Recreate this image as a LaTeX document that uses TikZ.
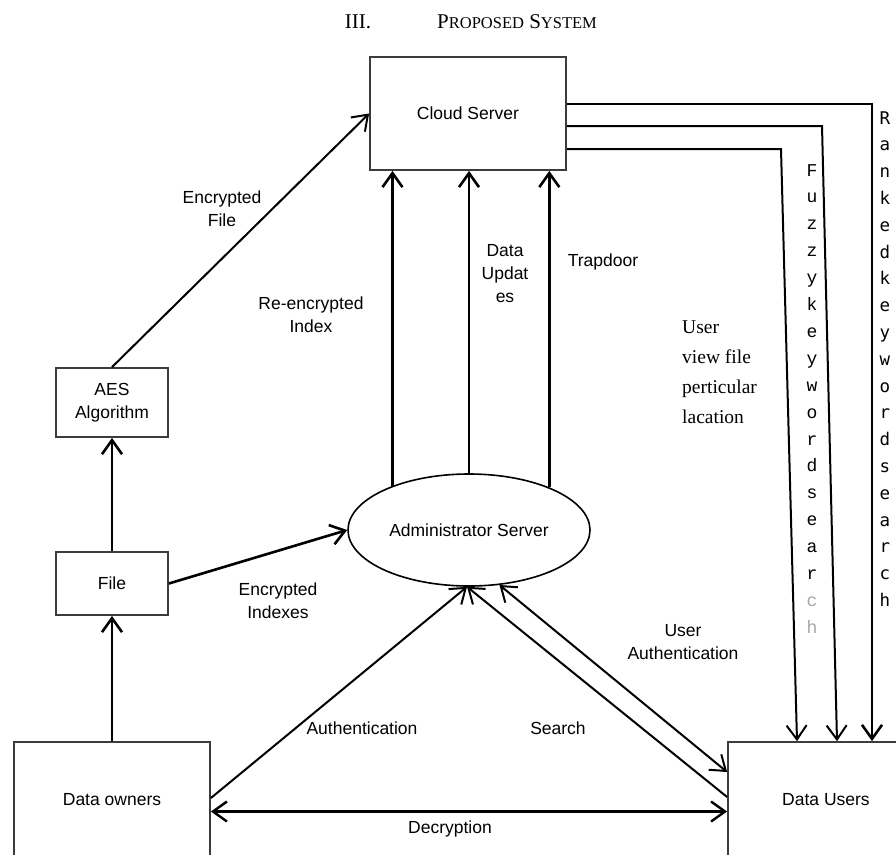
\documentclass[tikz,border=0pt]{standalone}
\usepackage{fontspec}
\setmainfont{Liberation Sans}
\newfontfamily\serifT{Liberation Serif}
\newfontfamily\monoF{Liberation Mono}
\newfontfamily\monoR{DejaVu Sans Mono}
\usetikzlibrary{arrows.meta,shapes.geometric,calc}
\definecolor{boxgray}{HTML}{3C3C3C}
\begin{document}
\begin{tikzpicture}[x=1pt,y=-1pt,
  font=\fontsize{17.5}{23}\selectfont,
  box/.style={draw=boxgray,line width=1.8pt,inner sep=0pt,align=center},
  arr/.style={line width=2.6pt,-{Straight Barb[length=14pt,width=20pt]}},
  arrthin/.style={line width=2pt,-{Straight Barb[length=14pt,width=20pt]}},
  arrboth/.style={line width=2.4pt,{Straight Barb[length=14pt,width=20pt]}-{Straight Barb[length=14pt,width=20pt]}},
  lbl/.style={align=center,inner sep=0pt},
  vletR/.style={anchor=base,inner sep=0pt,font=\monoR\fontsize{17.5}{17.5}\selectfont},
  vletF/.style={anchor=base,inner sep=0pt,font=\monoF\fontsize{18}{18}\selectfont}]
\useasboundingbox (0,0) rectangle (896,854);
\clip (0,0) rectangle (896,854);

% title
\node[anchor=base,inner sep=0pt,font=\serifT\fontsize{21}{21}\selectfont] (num) at (358,28) {III.};
\node[anchor=base west,inner sep=0pt,font=\serifT\fontsize{21}{21}\selectfont] (ttl) at (437,28)
  {P{\fontsize{16.5}{16}\selectfont ROPOSED} S{\fontsize{16.5}{16}\selectfont YSTEM}};

% nodes
\node[box,minimum width=196pt,minimum height=113pt] (cloud) at (468,113.5) {Cloud Server};
\node[box,minimum width=112pt,minimum height=69pt] (aes) at (112,402.5) {AES\\Algorithm};
\node[box,minimum width=112pt,minimum height=63pt] (file) at (112,583.5) {File};
\node[draw,ellipse,line width=1.6pt,inner sep=0pt,minimum width=242pt,minimum height=112pt] (admin) at (469,530) {Administrator Server};
\node[box,minimum width=196pt,minimum height=116pt] (owners) at (112,800) {Data owners};
\node[box,minimum width=196pt,minimum height=116pt] (users) at (826,800) {Data Users};

% arrows on the left
\draw[arr] (owners.north) -- (file.south);
\draw[arr] (file.north) -- (aes.south);
\draw[arrthin] (aes.north) -- (cloud.west);
\draw[arr] (file.east) -- (admin.west);

% admin to cloud
\draw[arr] (admin.150) -- (admin.150 |- cloud.south);
\draw[arr] (admin.north) -- (admin.north |- cloud.south);
\draw[arr] (admin.28) -- (admin.28 |- cloud.south);

% cloud to users
\coordinate (k2) at (822,126);
\coordinate (k3) at (781,149);
\draw[arr] ([yshift=9.5pt]cloud.east) -| ([xshift=46pt]users.north);
\draw[arrthin] ([yshift=-12.5pt]cloud.east) -- (k2) -- ([xshift=11pt]users.north);
\draw[arrthin] ([yshift=-35.5pt]cloud.east) -- (k3) -- ([xshift=-29pt]users.north);

% bottom
\draw[arrthin] ([yshift=2pt]owners.east) -- (admin.268);
\draw[arrthin] ([yshift=3pt]users.west) -- (admin.268);
\draw[line width=2pt,{Straight Barb[length=14pt,width=20pt]}-{Straight Barb[length=14pt,width=20pt]}] (admin.299) -- ([yshift=28pt]users.west);
\draw[arrboth] ([yshift=-11.5pt]owners.east) -- ([yshift=-11.5pt]users.west);

% labels
\node[lbl] (lEF) at (222,209) {Encrypted\\File};
\node[lbl] (lRI) at (311,315) {Re-encrypted\\Index};
\node[lbl] (lDU) at (505,274) {Data\\Updat\\es};
\node[lbl] (lTD) at (603,262) {Trapdoor};
\node[lbl,align=left,anchor=north west,font=\serifT\fontsize{19.5}{30}\selectfont] (lUV) at (682,321) {User\\view file\\perticular\\lacation};
\node[lbl] (lEI) at (278,601) {Encrypted\\Indexes};
\node[lbl] (lUA) at (683,642) {User\\Authentication};
\node[lbl] (lAU) at (362,728) {Authentication};
\node[lbl] (lSE) at (558,728) {Search};
\node[lbl] (lDE) at (450,829) {Decryption};

% vertical texts
\foreach \lt [count=\i from 0] in {R,a,n,k,e,d,k,e,y,w,o,r,d,s,e,a,r,c,h}
  \node[vletR] (rk\i) at (885,{124+26.8*\i}) {\lt};
\foreach \lt [count=\i from 0] in {F,u,z,z,y,k,e,y,w,o,r,d,s,e,a,r}
  \node[vletF] (fz\i) at (812,{176+26.9*\i}) {\lt};
\foreach \lt [count=\i from 16] in {c,h}
  \node[vletF,text=gray!70] (fz\i) at (812,{176+26.9*\i}) {\lt};
\end{tikzpicture}
\end{document}
